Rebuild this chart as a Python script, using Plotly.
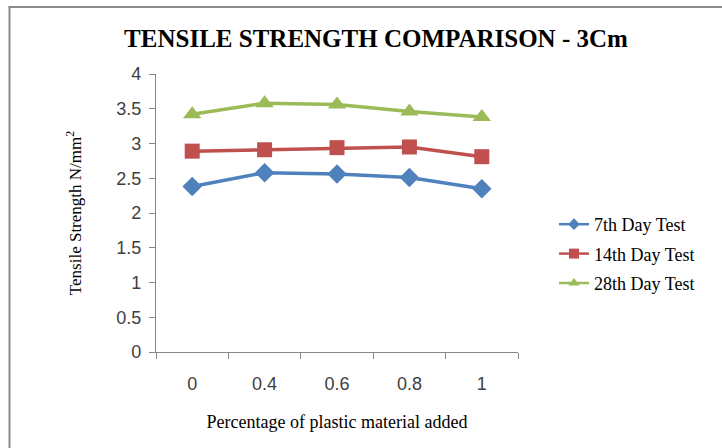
import plotly.graph_objects as go

# Percentage of plastic material added (category labels)
plastic_pct = ["0", "0.4", "0.6", "0.8", "1"]

# Tensile strength (N/mm^2) for each curing age
day7 = [2.38, 2.58, 2.56, 2.51, 2.35]
day14 = [2.89, 2.91, 2.94, 2.95, 2.81]
day28 = [3.42, 3.58, 3.56, 3.46, 3.38]

series_names = ["7th Day Test", "14th Day Test", "28th Day Test"]
series_colors = ["#4F81BD", "#C0504D", "#9BBB59"]
series_symbols = ["diamond", "square", "triangle-up"]
series_sizes = [15, 15, 16]
legend_sizes = [9, 10, 10]

W, H = 722, 448
L, R, T, B = 156, 204, 74, 96
pw, ph = W - L - R, H - T - B

fig = go.Figure()
for name, vals, col, sym, sz in zip(series_names, [day7, day14, day28],
                                    series_colors, series_symbols, series_sizes):
    fig.add_trace(go.Scatter(
        x=plastic_pct, y=vals, name=name, mode="lines+markers",
        legendgroup=name, showlegend=False,
        line=dict(color=col, width=3.5),
        marker=dict(symbol=sym, size=sz, color=col),
    ))

# legend keys use smaller markers and a thinner line than the plotted series
for name, col, sym, sz in zip(series_names, series_colors, series_symbols, legend_sizes):
    fig.add_trace(go.Scatter(
        x=[None], y=[None], name=name, mode="lines+markers",
        legendgroup=name, showlegend=True,
        line=dict(color=col, width=2.5),
        marker=dict(symbol=sym, size=sz, color=col),
    ))

# outer frame of the chart area (left and top edges)
def px_x(v):
    return (v - L) / pw

def px_y(v):
    return (H - B - v) / ph

frame = dict(color="#8C8C8C", width=2)
fig.add_shape(type="line", xref="paper", yref="paper",
              x0=px_x(9.5), x1=px_x(9.5), y0=px_y(7), y1=px_y(H + 2), line=frame)
fig.add_shape(type="line", xref="paper", yref="paper",
              x0=px_x(8.5), x1=px_x(W + 2), y0=px_y(7), y1=px_y(7), line=frame)

axis_col = "#868686"
tick_font = dict(family="Liberation Sans, Arial, sans-serif", size=18, color="#404040")
serif = "Liberation Serif, Times New Roman, serif"

fig.update_layout(
    width=W, height=H,
    margin=dict(l=L, r=R, t=T, b=B),
    paper_bgcolor="white", plot_bgcolor="white",
    title=dict(text="<b>TENSILE STRENGTH COMPARISON - 3Cm</b>",
               font=dict(family=serif, size=25, color="#000000"),
               x=376 / W, xanchor="center", y=1 - 38 / H, yanchor="middle"),
    xaxis=dict(
        type="category", range=[-0.5, 4.5],
        showline=True, linecolor=axis_col, linewidth=1.2,
        ticks="outside", tickson="boundaries", ticklen=6, tickcolor=axis_col,
        ticklabelstandoff=15,
        showgrid=False, zeroline=False, tickfont=tick_font,
        title=dict(text="Percentage of plastic material added",
                   font=dict(family=serif, size=18, color="#000000"), standoff=22),
    ),
    yaxis=dict(
        range=[0, 4], dtick=0.5,
        showline=True, linecolor=axis_col, linewidth=1.2,
        ticks="outside", ticklen=6, tickcolor=axis_col,
        ticklabelstandoff=4,
        showgrid=False, zeroline=False, tickfont=tick_font,
        title=dict(text="Tensile Strength N/mm<sup>2</sup>",
                   font=dict(family=serif, size=17, color="#000000"), standoff=30),
    ),
    legend=dict(
        x=px_x(554), y=px_y(206), xanchor="left", yanchor="top",
        font=dict(family=serif, size=18, color="#000000"),
        tracegroupgap=3, itemsizing="trace",
        bgcolor="rgba(0,0,0,0)",
    ),
    showlegend=True,
)

fig.write_html("out.html")
